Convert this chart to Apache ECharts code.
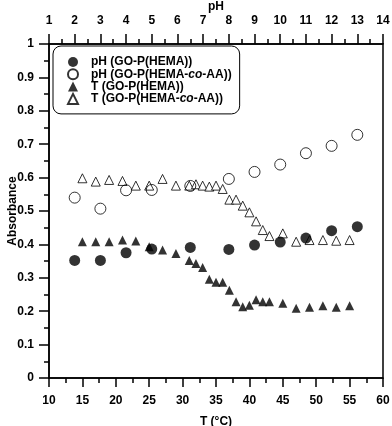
<!DOCTYPE html>
<html>
<head>
<meta charset="utf-8">
<script src="https://cdn.jsdelivr.net/npm/echarts@6/dist/echarts.min.js"></script>
<style>
  html, body { margin: 0; padding: 0; background: #fff; }
  #main { width: 392px; height: 426px; }
</style>
</head>
<body>
<div id="main"></div>
<script>
// pH series (top axis)
var phValues = [2, 3, 4, 5, 6.5, 8, 9, 10, 11, 12, 13];
var absPhHema = [0.352, 0.352, 0.375, 0.386, 0.391, 0.385, 0.398, 0.407, 0.419, 0.441, 0.453];
var absPhHemaAA = [0.540, 0.507, 0.562, 0.563, 0.575, 0.596, 0.617, 0.639, 0.673, 0.695, 0.728];

// temperature series (bottom axis)
var tempValues = [15, 17, 19, 21, 23, 25, 27, 29, 31, 32, 33, 34, 35, 36, 37, 38, 39, 40, 41, 42, 43, 45, 47, 49, 51, 53, 55];
var absTHema = [0.408, 0.408, 0.408, 0.413, 0.410, 0.393, 0.383, 0.373, 0.352, 0.343, 0.331, 0.296, 0.287, 0.287, 0.263,
  0.228, 0.213, 0.218, 0.234, 0.228, 0.228, 0.224, 0.209, 0.212, 0.216, 0.212, 0.216];
var absTHemaAA = [0.598, 0.588, 0.593, 0.590, 0.576, 0.576, 0.596, 0.576, 0.576, 0.580, 0.576, 0.573, 0.576, 0.566, 0.534,
  0.534, 0.516, 0.496, 0.469, 0.443, 0.425, 0.433, 0.408, 0.413, 0.413, 0.411, 0.413];

var seriesNames = ['pH (GO-P(HEMA))', 'pH (GO-P(HEMA-co-AA))', 'T (GO-P(HEMA))', 'T (GO-P(HEMA-co-AA))'];

function pairs(xs, ys) {
  return xs.map(function (x, i) { return [x, ys[i]]; });
}

var font = 'Liberation Sans, Arial, sans-serif';
var labelStyle = { fontFamily: font, fontWeight: 'bold', fontSize: 12, color: '#000' };
var lineStyle = { color: '#000', width: 1.5 };

var chart = echarts.init(document.getElementById('main'));

var option = {
  animation: false,
  grid: { left: 49, right: 9, top: 44, bottom: 48, show: true, borderColor: '#000', borderWidth: 1.5, outerBoundsMode: 'none' },
  legend: {
    orient: 'vertical',
    left: 53,
    top: 46,
    data: seriesNames,
    padding: [10, 8, 9, 14],
    itemGap: 0.3,
    itemWidth: 10,
    itemHeight: 10,
    borderColor: '#000',
    borderWidth: 1,
    borderRadius: 8,
    formatter: function (name) {
      if (name.indexOf('-co-') >= 0) {
        var parts = name.split('-co-');
        return '{s|}{a|' + parts[0] + '-}{i|co}{a|-' + parts[1] + '}';
      }
      return '{s|}{a|' + name + '}';
    },
    textStyle: {
      rich: {
        s: { width: 8, lineHeight: 12 },
        a: { fontFamily: font, fontWeight: 'bold', fontSize: 12, lineHeight: 12, color: '#000' },
        i: { fontFamily: font, fontWeight: 'bold', fontStyle: 'italic', fontSize: 12, lineHeight: 12, color: '#000' }
      }
    }
  },
  xAxis: [
    {
      type: 'value', position: 'bottom', min: 10, max: 60, interval: 5,
      name: 'T (°C)', nameLocation: 'middle', nameGap: 38, nameMoveOverlap: false,
      nameTextStyle: labelStyle,
      axisLine: { lineStyle: lineStyle },
      axisTick: { inside: false, length: 9, lineStyle: lineStyle },
      minorTick: { show: true, splitNumber: 2, length: 5, lineStyle: { color: '#000', width: 1.5 } },
      axisLabel: Object.assign({ margin: 17, showMinLabel: true, showMaxLabel: true }, labelStyle),
      splitLine: { show: false }
    },
    {
      type: 'value', position: 'top', min: 1, max: 14, interval: 1,
      name: 'pH', nameLocation: 'middle', nameGap: 31, nameMoveOverlap: false,
      nameTextStyle: labelStyle,
      axisLine: { lineStyle: lineStyle },
      axisTick: { inside: false, length: 10, lineStyle: lineStyle },
      minorTick: { show: true, splitNumber: 2, length: 5, lineStyle: { color: '#000', width: 1.5 } },
      axisLabel: Object.assign({ margin: 17, showMinLabel: true, showMaxLabel: true }, labelStyle),
      splitLine: { show: false }
    }
  ],
  yAxis: {
    type: 'value', min: 0, max: 1, interval: 0.1,
    name: 'Absorbance', nameLocation: 'middle', nameGap: 30, nameRotate: 90, nameMoveOverlap: false,
    nameTextStyle: labelStyle,
    axisLine: { lineStyle: lineStyle },
    axisTick: { inside: false, length: 10, lineStyle: lineStyle },
    minorTick: { show: true, splitNumber: 2, length: 5, lineStyle: { color: '#000', width: 1.5 } },
    axisLabel: Object.assign({ margin: 15, showMinLabel: true, showMaxLabel: true }, labelStyle),
    splitLine: { show: false }
  },
  series: [
    {
      name: seriesNames[2], type: 'scatter', xAxisIndex: 0, z: 2,
      symbol: 'triangle', symbolSize: 9,
      itemStyle: { color: '#000' },
      data: pairs(tempValues, absTHema)
    },
    {
      name: seriesNames[3], type: 'scatter', xAxisIndex: 0, z: 2,
      symbol: 'triangle', symbolSize: 9,
      itemStyle: { color: '#fff', borderColor: '#000', borderWidth: 1 },
      data: pairs(tempValues, absTHemaAA)
    },
    {
      name: seriesNames[1], type: 'scatter', xAxisIndex: 1, z: 3,
      symbol: 'circle', symbolSize: 11,
      itemStyle: { color: 'rgba(255,255,255,0)', borderColor: '#000', borderWidth: 1 },
      data: pairs(phValues, absPhHemaAA)
    },
    {
      name: seriesNames[0], type: 'scatter', xAxisIndex: 1, z: 4,
      symbol: 'circle', symbolSize: 11,
      itemStyle: { color: '#000' },
      data: pairs(phValues, absPhHema)
    }
  ]
};

chart.setOption(option);
</script>
</body>
</html>
